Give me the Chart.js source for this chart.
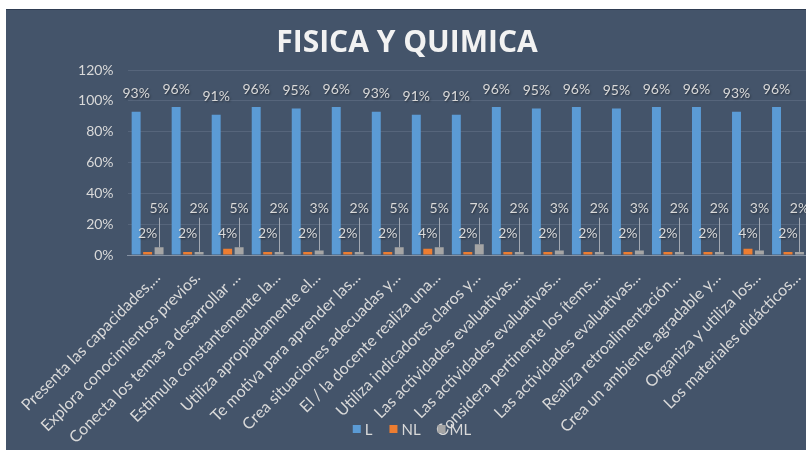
<!DOCTYPE html>
<html>
<head>
<meta charset="utf-8">
<script src="https://cdn.jsdelivr.net/npm/chart.js@4.4.1/dist/chart.umd.min.js"></script>
<style>
  html, body { margin: 0; padding: 0; background: #ffffff; overflow: hidden; width: 806px; height: 450px; }
  #wrap { position: absolute; left: 6px; top: 9px; width: 815px; height: 441px; background: #44546a; border-top: 1px solid #2f3d52; box-sizing: border-box; }
  canvas { display: block; }
</style>
</head>
<body>
<div id="wrap"><canvas id="c" width="815" height="440"></canvas></div>
<script>
const categories = [
  'Presenta las capacidades,...',
  'Explora conocimientos previos.',
  'Conecta los temas a desarrollar ...',
  'Estimula constantemente la...',
  'Utiliza apropiadamente el...',
  'Te motiva para aprender las...',
  'Crea situaciones adecuadas y...',
  'El / la docente realiza una...',
  'Utiliza indicadores claros y...',
  'Las actividades evaluativas...',
  'Las actividades evaluativas...',
  'Considera pertinente los ítems...',
  'Las actividades evaluativas...',
  'Realiza retroalimentación...',
  'Crea un ambiente agradable y...',
  'Organiza y utiliza los...',
  'Los materiales didácticos...'
];
const seriesL  = [93, 96, 91, 96, 95, 96, 93, 91, 91, 96, 95, 96, 95, 96, 96, 93, 96];
const seriesNL = [2, 2, 4, 2, 2, 2, 2, 4, 2, 2, 2, 2, 2, 2, 2, 4, 2];
const seriesML = [5, 2, 5, 2, 3, 2, 5, 5, 7, 2, 3, 2, 3, 2, 2, 3, 2];
const yTicks = [0, 20, 40, 60, 80, 100, 120];

const TEXT = '#d9d9d9';

const labelPlugin = {
  id: 'barLabels',
  afterDatasetsDraw(chart) {
    const ctx = chart.ctx;
    const y = chart.scales.y;
    ctx.save();
    ctx.font = '14px Lato';
    ctx.textAlign = 'center';
    ctx.textBaseline = 'middle';
    chart.data.datasets.forEach((ds, di) => {
      const meta = chart.getDatasetMeta(di);
      meta.data.forEach((bar, i) => {
        const txt = ds.data[i] + '%';
        let ly;
        if (di === 0) {
          ly = bar.y - 18;
        } else if (di === 1) {
          ly = y.getPixelForValue(14);
        } else {
          ly = y.getPixelForValue(30);
          ctx.strokeStyle = '#a3a9b3';
          ctx.lineWidth = 1;
          ctx.beginPath();
          ctx.moveTo(Math.round(bar.x) + 0.5, ly + 9);
          ctx.lineTo(Math.round(bar.x) + 0.5, bar.y);
          ctx.stroke();
        }
        ctx.shadowColor = 'rgba(0,0,0,0.45)';
        ctx.shadowOffsetX = 1;
        ctx.shadowOffsetY = 1;
        ctx.shadowBlur = 2;
        ctx.fillStyle = TEXT;
        ctx.fillText(txt, bar.x, ly);
        ctx.shadowColor = 'transparent';
      });
    });
    ctx.restore();
  }
};

const legendPlugin = {
  id: 'customLegend',
  afterDraw(chart) {
    const ctx = chart.ctx;
    const ds = chart.data.datasets;
    ctx.save();
    ctx.font = '15px Lato';
    ctx.textBaseline = 'middle';
    ctx.textAlign = 'left';
    const box = 8, gap = 4, itemGap = 17;
    const widths = ds.map(d => box + gap + ctx.measureText(d.label).width);
    const total = widths.reduce((a, b) => a + b, 0) + itemGap * (ds.length - 1);
    let x = 406 - total / 2;
    const cy = 419;
    ds.forEach((d, i) => {
      ctx.fillStyle = d.backgroundColor;
      ctx.fillRect(x, cy - box / 2, box, box);
      ctx.fillStyle = TEXT;
      ctx.fillText(d.label, x + box + gap, cy + 1);
      x += widths[i] + itemGap;
    });
    ctx.restore();
  }
};

new Chart(document.getElementById('c'), {
  type: 'bar',
  data: {
    labels: categories,
    datasets: [
      { label: 'L', data: seriesL, backgroundColor: '#5b9bd5' },
      { label: 'NL', data: seriesNL, backgroundColor: '#ed7d31' },
      { label: 'ML', data: seriesML, backgroundColor: '#a5a5a5' }
    ]
  },
  options: {
    responsive: false,
    animation: false,
    layout: { padding: { left: 0, right: 13, top: 0, bottom: 5 } },
    datasets: { bar: { categoryPercentage: 0.86, barPercentage: 0.78 } },
    plugins: {
      title: {
        display: true,
        text: 'FISICA Y QUIMICA',
        color: '#f2f2f2',
        font: { family: 'Open Sans', size: 30, weight: 'bold' },
        padding: { top: 15, bottom: 9 }
      },
      legend: { display: false },
      tooltip: { enabled: false }
    },
    scales: {
      x: {
        grid: { display: false },
        border: { color: '#8591a2', width: 1 },
        ticks: {
          color: TEXT,
          font: { family: 'Lato', size: 16 },
          autoSkip: false,
          minRotation: 45,
          maxRotation: 45,
          labelOffset: 10,
          padding: 5
        },
        afterFit(scale) { scale.height = 190; }
      },
      y: {
        min: 0,
        max: 120,
        afterBuildTicks(scale) { scale.ticks = yTicks.map(v => ({ value: v })); },
        ticks: {
          color: TEXT,
          font: { family: 'Lato', size: 14 },
          padding: 14,
          callback: v => v + '%'
        },
        grid: { color: '#56657b', drawTicks: false },
        border: { display: false },
        afterFit(scale) { scale.width = 117; }
      }
    }
  },
  plugins: [labelPlugin, legendPlugin]
});
</script>
</body>
</html>
